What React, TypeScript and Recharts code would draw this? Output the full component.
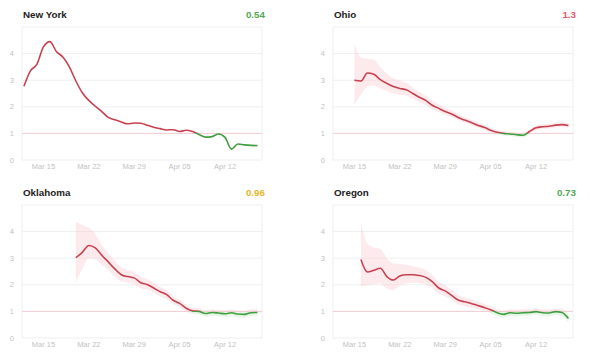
import { ComposedChart, Line, Area, XAxis, YAxis, CartesianGrid, ReferenceLine } from "recharts";

// Day 0 = Mar 12, day 36 = Apr 17
const TICK_DAYS = [3, 10, 17, 24, 31];
const TICK_LABELS = ["Mar 15", "Mar 22", "Mar 29", "Apr 05", "Apr 12"];
const Y_TICKS = [0, 1, 2, 3, 4, 5];

const lead = (n: number) => Array(n).fill(null);

const newYorkRt = [
  2.77, 3.35, 3.6, 4.25, 4.45, 4.08, 3.87, 3.5, 2.97, 2.53, 2.24, 2.02, 1.82, 1.6, 1.51, 1.43, 1.36, 1.39, 1.38,
  1.31, 1.23, 1.18, 1.13, 1.14, 1.07, 1.12, 1.07, 0.96, 0.86, 0.88, 0.98, 0.85, 0.41, 0.6, 0.57, 0.55, 0.54,
];

const ohioRt = [
  ...lead(3), 3.0, 2.97, 3.27, 3.22, 3.02, 2.88, 2.76, 2.69, 2.64, 2.5, 2.36, 2.24, 2.06, 1.94, 1.82, 1.73, 1.6,
  1.5, 1.41, 1.31, 1.23, 1.12, 1.04, 1.0, 0.98, 0.95, 0.93, 1.07, 1.21, 1.25, 1.27, 1.31, 1.33, 1.3,
];
const ohioLow = [
  ...lead(3), 2.08, 2.45, 2.75, 2.8, 2.68, 2.6, 2.5, 2.45, 2.42, 2.3, 2.18, 2.07, 1.9, 1.8, 1.69, 1.61, 1.49,
  1.4, 1.31, 1.22, 1.14, 1.04, 0.96, 0.92, 0.9, 0.87, 0.85, 0.98, 1.12, 1.16, 1.18, 1.22, 1.24, 1.2,
];
const ohioHigh = [
  ...lead(3), 4.38, 3.85, 3.8, 3.78, 3.48, 3.25, 3.07, 2.98, 2.9, 2.72, 2.56, 2.42, 2.23, 2.09, 1.96, 1.86, 1.72,
  1.61, 1.51, 1.41, 1.32, 1.21, 1.12, 1.08, 1.06, 1.03, 1.01, 1.16, 1.3, 1.34, 1.36, 1.4, 1.42, 1.4,
];

const oklahomaRt = [
  ...lead(8), 3.02, 3.22, 3.48, 3.39, 3.11, 2.86, 2.6, 2.38, 2.31, 2.26, 2.08, 2.01, 1.88, 1.74, 1.63, 1.42,
  1.3, 1.12, 1.02, 1.0, 0.92, 0.96, 0.94, 0.91, 0.95, 0.9, 0.89, 0.95, 0.96,
];
const oklahomaLow = [
  ...lead(8), 2.08, 2.6, 3.0, 2.95, 2.75, 2.55, 2.32, 2.13, 2.08, 2.03, 1.87, 1.81, 1.69, 1.56, 1.46, 1.27,
  1.16, 0.99, 0.9, 0.88, 0.8, 0.84, 0.82, 0.79, 0.83, 0.78, 0.77, 0.83, 0.84,
];
const oklahomaHigh = [
  ...lead(8), 4.38, 4.25, 4.15, 3.9, 3.5, 3.2, 2.9, 2.65, 2.56, 2.5, 2.3, 2.22, 2.07, 1.92, 1.8, 1.57,
  1.44, 1.25, 1.14, 1.12, 1.04, 1.08, 1.06, 1.03, 1.07, 1.02, 1.01, 1.08, 1.09,
];

const oregonRt = [
  ...lead(4), 2.95, 2.48, 2.55, 2.62, 2.31, 2.18, 2.33, 2.38, 2.38, 2.35, 2.28, 2.12, 1.88, 1.77, 1.6, 1.43,
  1.36, 1.3, 1.22, 1.15, 1.06, 0.95, 0.89, 0.95, 0.93, 0.95, 0.96, 0.99, 0.95, 0.94, 0.99, 0.96, 0.73,
];
const oregonLow = [
  ...lead(4), 1.95, 1.98, 2.02, 2.05, 1.85, 1.8, 1.98, 2.06, 2.08, 2.07, 2.02, 1.88, 1.66, 1.57, 1.42, 1.26,
  1.2, 1.15, 1.08, 1.02, 0.93, 0.83, 0.77, 0.83, 0.81, 0.83, 0.84, 0.87, 0.83, 0.82, 0.86, 0.83, 0.58,
];
const oregonHigh = [
  ...lead(4), 4.35, 3.55, 3.4, 3.35, 3.0, 2.8, 2.78, 2.75, 2.7, 2.64, 2.55, 2.37, 2.11, 1.98, 1.8, 1.61,
  1.53, 1.46, 1.37, 1.29, 1.2, 1.08, 1.02, 1.08, 1.06, 1.08, 1.09, 1.12, 1.08, 1.07, 1.12, 1.1, 0.88,
];

const FONT = "'Liberation Sans', Arial, Helvetica, sans-serif";
const RED = "#c8414f";
const GREEN = "#3f9e3f";
const Y_MAX = 5;
const MARGIN = { top: 5, right: 8, left: 0, bottom: 0 };
const PLOT_H = 133;
const CHART_W = 270;
const CHART_H = MARGIN.top + PLOT_H + 16;
// where Rt = 1 sits, measured from the top of the plot
const THRESHOLD = (Y_MAX - 1) / Y_MAX;

interface PanelProps {
  id: string;
  name: string;
  rt: (number | null)[];
  low?: (number | null)[];
  high?: (number | null)[];
  valueColor: string;
  left: number;
  top: number;
}

function StatePanel({ id, name, rt, low, high, valueColor, left, top }: PanelProps) {
  const data = rt.map((v, i) => ({
    day: i,
    rt: v,
    band: low && high && low[i] != null ? [low[i], high[i]] : null,
  }));
  const last = rt[rt.length - 1] as number;

  return (
    <div style={{ position: "absolute", left, top, width: 300, height: 178, fontFamily: FONT }}>
      <div style={{ position: "absolute", left: 23, top: 8.5, fontSize: 9.8, lineHeight: "12px", fontWeight: 700, color: "#222" }}>
        {name}
      </div>
      <div
        style={{
          position: "absolute", left: 0, width: 265, top: 8.5, textAlign: "right",
          fontSize: 9.8, lineHeight: "12px", fontWeight: 700, color: valueColor,
        }}
      >
        {String(Number(last.toFixed(2)))}
      </div>
      <div style={{ position: "absolute", left: 0, top: 22 }}>
        <ComposedChart width={CHART_W} height={CHART_H} data={data} margin={MARGIN}>
          <defs>
            <linearGradient id={`line-${id}`} gradientUnits="userSpaceOnUse" x1="0" x2="0" y1={MARGIN.top} y2={MARGIN.top + PLOT_H}>
              <stop offset={0} stopColor={RED} />
              <stop offset={THRESHOLD} stopColor={RED} />
              <stop offset={THRESHOLD} stopColor={GREEN} />
              <stop offset={1} stopColor={GREEN} />
            </linearGradient>
            <linearGradient id={`band-${id}`} gradientUnits="userSpaceOnUse" x1="0" x2="0" y1={MARGIN.top} y2={MARGIN.top + PLOT_H}>
              <stop offset={0} stopColor="#f7c3cb" stopOpacity={0.35} />
              <stop offset={THRESHOLD} stopColor="#f7c3cb" stopOpacity={0.35} />
              <stop offset={THRESHOLD} stopColor="#c4e8c4" stopOpacity={0.4} />
              <stop offset={1} stopColor="#c4e8c4" stopOpacity={0.4} />
            </linearGradient>
          </defs>
          <CartesianGrid
            stroke="#efefef"
            verticalCoordinatesGenerator={({ offset }: any) => [offset.left, offset.left + offset.width]}
          />
          <XAxis
            dataKey="day"
            type="number"
            domain={[-0.3, 36.7]}
            ticks={TICK_DAYS}
            interval={0}
            tickFormatter={(v: number) => TICK_LABELS[TICK_DAYS.indexOf(v)]}
            tick={{ fontSize: 7.5, fill: "#c2c2c2" }}
            axisLine={false}
            tickLine={false}
            tickSize={0}
            tickMargin={4}
            height={16}
          />
          <YAxis
            domain={[0, Y_MAX]}
            ticks={Y_TICKS}
            interval={0}
            tickFormatter={(v: number) => (v === Y_MAX ? "" : String(v))}
            tick={{ fontSize: 7.5, fill: "#c2c2c2" }}
            axisLine={false}
            tickLine={false}
            tickSize={0}
            tickMargin={8}
            width={22}
          />
          <ReferenceLine y={1} stroke="#f3cdd3" strokeWidth={1} />
          {low && (
            <Area
              type="monotone"
              dataKey="band"
              stroke="none"
              fill={`url(#band-${id})`}
              fillOpacity={1}
              dot={false}
              activeDot={false}
              isAnimationActive={false}
            />
          )}
          <Line
            type="monotone"
            dataKey="rt"
            stroke={`url(#line-${id})`}
            strokeWidth={1.6}
            dot={false}
            activeDot={false}
            isAnimationActive={false}
          />
        </ComposedChart>
      </div>
    </div>
  );
}

export default function App() {
  return (
    <div style={{ position: "absolute", left: 0, top: 0, width: 590, height: 352, background: "#fff", overflow: "hidden" }}>
      <StatePanel id="ny" name="New York" rt={newYorkRt} valueColor="#52a852" left={0} top={0} />
      <StatePanel id="oh" name="Ohio" rt={ohioRt} low={ohioLow} high={ohioHigh} valueColor="#e0596a" left={311} top={0} />
      <StatePanel id="ok" name="Oklahoma" rt={oklahomaRt} low={oklahomaLow} high={oklahomaHigh} valueColor="#e6b52a" left={0} top={178} />
      <StatePanel id="or" name="Oregon" rt={oregonRt} low={oregonLow} high={oregonHigh} valueColor="#52a852" left={311} top={178} />
    </div>
  );
}
